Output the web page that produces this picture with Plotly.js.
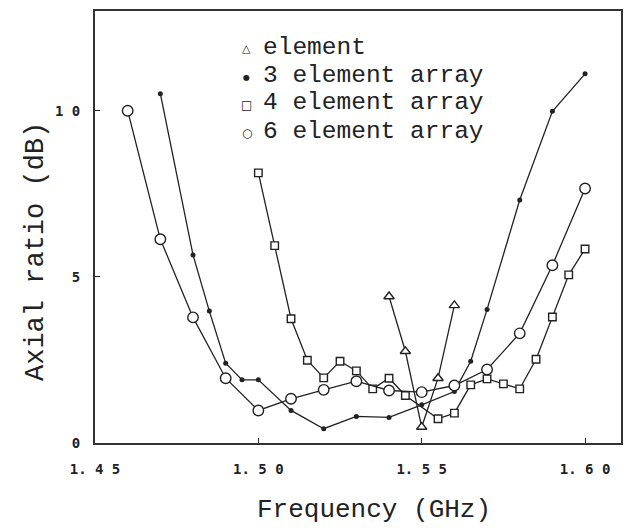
<!DOCTYPE html>
<html>
<head>
<meta charset="utf-8">
<script src="https://cdn.plot.ly/plotly-3.0.1.min.js"></script>
<style>html,body{margin:0;padding:0;background:#fff;}#chart{width:630px;height:528px;}</style>
</head>
<body>
<div id="chart"></div>
<script>
// Frequency (GHz) and axial ratio (dB) per series
const freqElement = [1.54, 1.545, 1.55, 1.555, 1.56];
const arElement   = [4.41, 2.76, 0.48, 1.95, 4.14];

const freq3 = [1.47, 1.48, 1.485, 1.49, 1.495, 1.50, 1.51, 1.52, 1.53, 1.54, 1.55, 1.56, 1.565, 1.57, 1.58, 1.59, 1.60];
const ar3   = [10.51, 5.66, 3.97, 2.40, 1.90, 1.90, 0.98, 0.43, 0.80, 0.77, 1.15, 1.55, 2.46, 4.02, 7.31, 9.98, 11.11];

const freq4 = [1.50, 1.505, 1.51, 1.515, 1.52, 1.525, 1.53, 1.535, 1.54, 1.545, 1.555, 1.56, 1.565, 1.57, 1.575, 1.58, 1.585, 1.59, 1.595, 1.60];
const ar4   = [8.13, 5.94, 3.74, 2.49, 1.96, 2.46, 2.17, 1.63, 1.95, 1.43, 0.73, 0.90, 1.75, 1.93, 1.78, 1.63, 2.52, 3.79, 5.06, 5.84];

const freq6 = [1.46, 1.47, 1.48, 1.49, 1.50, 1.51, 1.52, 1.53, 1.54, 1.55, 1.56, 1.57, 1.58, 1.59, 1.60];
const ar6   = [10.0, 6.13, 3.78, 1.95, 0.98, 1.33, 1.60, 1.86, 1.58, 1.53, 1.73, 2.21, 3.30, 5.35, 7.66];

const seriesNames = ["element", "3 element array", "4 element array", "6 element array"];
const legendSymbols = ["\u25B3", "\u25CF", "\u25A1", "\u25CB"];

const xTickVals = [1.45, 1.50, 1.55, 1.60];
const xTickText = ["1. 4 5", "1. 5 0", "1. 5 5", "1. 6 0"];
const yTickVals = [0, 5, 10];
const yTickText = ["0", "5", "1 0"];

const ink = "#222";
const lineStyle = {color: ink, width: 1.3};

const traces = [
  {x: freqElement, y: arElement, name: seriesNames[0], mode: "lines+markers", line: lineStyle,
   marker: {symbol: "triangle-up", size: 9, color: "#fff", line: {color: ink, width: 1.4}}},
  {x: freq3, y: ar3, name: seriesNames[1], mode: "lines+markers", line: lineStyle,
   marker: {symbol: "circle", size: 5, color: ink}},
  {x: freq4, y: ar4, name: seriesNames[2], mode: "lines+markers", line: lineStyle,
   marker: {symbol: "square", size: 7.5, color: "#fff", line: {color: ink, width: 1.4}}},
  {x: freq6, y: ar6, name: seriesNames[3], mode: "lines+markers", line: lineStyle,
   marker: {symbol: "circle", size: 10.5, color: "#fff", line: {color: ink, width: 1.4}}}
];

const L = 95, R = 621, T = 11, B = 443;
const W = R - L, H = B - T;
const px = v => (v - L) / W;
const py = v => (B - v) / H;

const mono = "Liberation Mono, DejaVu Sans Mono, monospace";
const annotations = [];
const rowY = [47, 75, 103, 131];
const symSize = [11, 8, 12, 12];
seriesNames.forEach((n, i) => {
  annotations.push({xref: "paper", yref: "paper", x: px(247), y: py(rowY[i] + 2), xanchor: "center", yanchor: "middle",
    text: legendSymbols[i], showarrow: false, borderpad: 0, font: {family: "DejaVu Sans", size: symSize[i], color: ink}});
  annotations.push({xref: "paper", yref: "paper", x: px(262), y: py(rowY[i]), xanchor: "left", yanchor: "middle",
    text: n, showarrow: false, borderpad: 0, font: {family: mono, size: 24.5, color: ink}});
});
annotations.push({xref: "paper", yref: "paper", x: px(374), y: py(510), xanchor: "center", yanchor: "middle",
  text: "Frequency (GHz)", showarrow: false, font: {family: mono, size: 26, color: ink}});
annotations.push({xref: "paper", yref: "paper", x: px(36), y: py(252), xanchor: "center", yanchor: "middle",
  text: "Axial ratio (dB)", textangle: -90, showarrow: false, font: {family: mono, size: 27, color: ink}});

const layout = {
  width: 630, height: 528,
  margin: {l: L, r: 630 - R, t: T, b: 528 - B},
  paper_bgcolor: "#fff", plot_bgcolor: "#fff",
  showlegend: false,
  xaxis: {range: [1.45, 1.611], tickvals: xTickVals, ticktext: xTickText, ticks: "inside", ticklen: 5,
    tickcolor: ink, showgrid: false, zeroline: false, showline: true, mirror: true, linecolor: "#333", linewidth: 2,
    ticklabelstandoff: 12, tickfont: {family: "DejaVu Sans Mono", size: 14, color: ink, weight: "bold"}},
  yaxis: {range: [0, 13], tickvals: yTickVals, ticktext: yTickText, ticks: "inside", ticklen: 5,
    tickcolor: ink, showgrid: false, zeroline: false, showline: true, mirror: true, linecolor: "#333", linewidth: 2,
    ticklabelstandoff: 10, tickfont: {family: "DejaVu Sans Mono", size: 14, color: ink, weight: "bold"}},
  annotations: annotations
};

Plotly.newPlot("chart", traces, layout, {displayModeBar: false, staticPlot: true});
</script>
</body>
</html>
